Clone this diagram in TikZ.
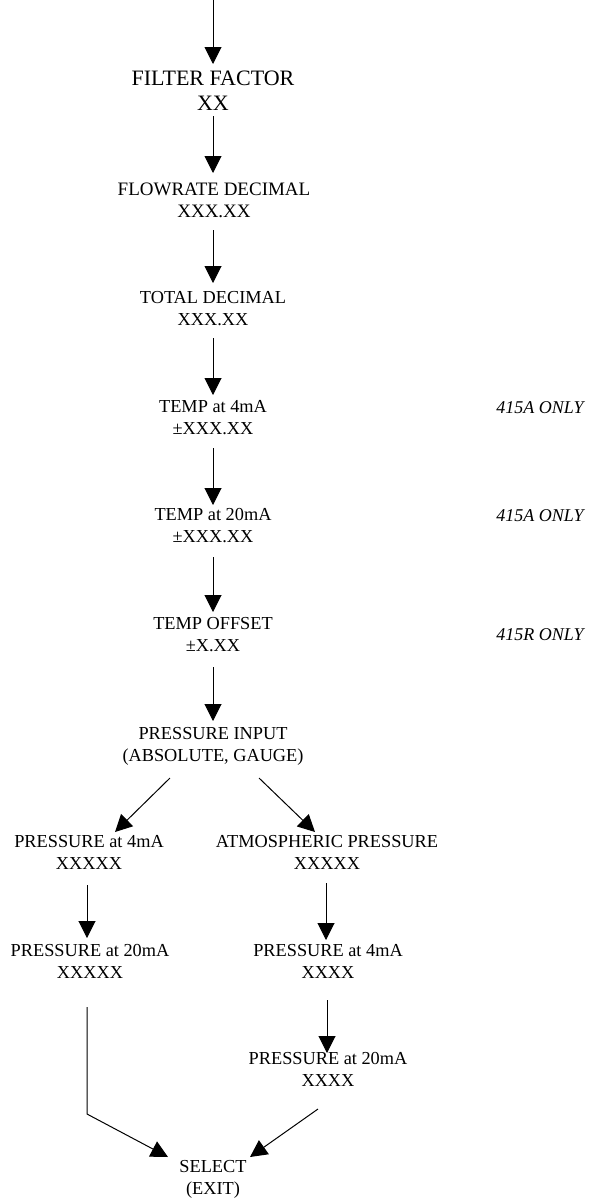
\documentclass[tikz,border=0pt]{standalone}
\usepackage{fontspec}
\setmainfont{Liberation Serif}
\usetikzlibrary{arrows.meta,calc}
\begin{document}
\begin{tikzpicture}[x=1pt,y=-1pt,
  lbl/.style={align=center,inner sep=0pt,font=\fontsize{18.3}{22}\selectfont},
  big/.style={align=center,inner sep=0pt,font=\fontsize{22}{25}\selectfont},
  note/.style={inner sep=0pt,font=\fontsize{18}{22}\selectfont\itshape},
  arr/.style={-{Triangle[width=17pt,length=17pt]},line width=1pt}]
\useasboundingbox (0,0) rectangle (590,1202);
\coordinate (top) at (213,0);
\node[big] (ff) at (213,90.75) {FILTER FACTOR\\XX};
\node[lbl,font=\fontsize{19}{22}\selectfont] (fd) at (214,200) {FLOWRATE DECIMAL\\XXX.XX};
\node[lbl] (td) at (213,309) {TOTAL DECIMAL\\XXX.XX};
\node[lbl] (t4) at (213,417.5) {TEMP at 4mA\\±XXX.XX};
\node[lbl] (t20) at (213,526) {TEMP at 20mA\\±XXX.XX};
\node[lbl] (to) at (213,635) {TEMP OFFSET\\±X.XX};
\node[lbl] (pi) at (213,746.5) {PRESSURE INPUT\\(ABSOLUTE, GAUGE)};
\node[lbl] (p4L) at (89,852.5) {PRESSURE at 4mA\\XXXXX};
\node[lbl] (atm) at (327,852.5) {ATMOSPHERIC PRESSURE\\XXXXX};
\node[lbl] (p20L) at (90,961.5) {PRESSURE at 20mA\\XXXXX};
\node[lbl] (p4R) at (328,961.5) {PRESSURE at 4mA\\XXXX};
\node[lbl] (p20R) at (328,1069.5) {PRESSURE at 20mA\\XXXX};
\node[lbl] (sel) at (213,1179) {SELECT\\(EXIT)};
\node[note] (n1) at (540,408) {415A ONLY};
\node[note] (n2) at (540,516) {415A ONLY};
\node[note] (n3) at (540,635) {415R ONLY};
\draw[arr,shorten >=26.75pt] (top) -- (ff.center);
\draw[arr,shorten <=25.25pt,shorten >=27pt] (ff.center) -- (fd.center -| ff.center);
\draw[arr,shorten <=30pt,shorten >=26pt] (fd.center -| td.center) -- (td.center);
\draw[arr,shorten <=29pt,shorten >=22.5pt] (td.center) -- (t4.center);
\draw[arr,shorten <=30.5pt,shorten >=21pt] (t4.center) -- (t20.center);
\draw[arr,shorten <=31pt,shorten >=23pt] (t20.center) -- (to.center);
\draw[arr,shorten <=32pt,shorten >=25.5pt] (to.center) -- (pi.center);
\draw[arr] ($(pi)+(-43,31.5)$) -- ($(p4L)+(26,-20.5)$);
\draw[arr] ($(pi)+(46,31.5)$) -- ($(atm)+(-12,-20.5)$);
\draw[arr] ($(p4L)+(-2,32.5)$) -- ($(p20L)+(-3,-23.5)$);
\draw[arr] ($(atm)+(-1,30.5)$) -- ($(p4R)+(-2,-21.5)$);
\draw[arr] ($(p4R)+(-1,38.5)$) -- ($(p20R)+(-1,-16.5)$);
\draw[arr] ($(p20L)+(-3,45.5)$) -- ($(p20L)+(-3,152.5)$) -- ($(sel)+(-45,-22)$);
\draw[arr] ($(p20R)+(-10,39.5)$) -- ($(sel)+(37,-22)$);
\end{tikzpicture}
\end{document}
